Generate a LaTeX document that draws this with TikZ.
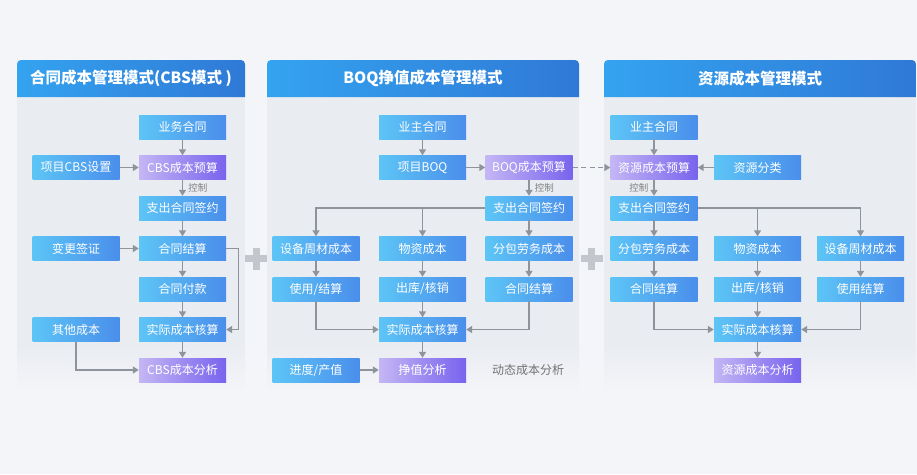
\documentclass[tikz,border=0pt]{standalone}
\usepackage{fontspec}
\setmainfont{Noto Sans CJK SC}
\usetikzlibrary{arrows.meta}

\definecolor{pagebg}{HTML}{F4F5F9}
\definecolor{panelbg}{HTML}{E9ECF1}
\definecolor{headleft}{HTML}{34A3F0}
\definecolor{headright}{HTML}{2F79D6}
\definecolor{boxleft}{HTML}{5DC5F6}
\definecolor{boxright}{HTML}{4A8EEB}
\definecolor{purpleleft}{HTML}{C4B6F5}
\definecolor{purpleright}{HTML}{7863EE}
\definecolor{linkgray}{HTML}{8E939C}
\definecolor{plusgray}{HTML}{C3C6CD}

\tikzset{
  panelhead/.style={left color=headleft, right color=headright},
  headtitle/.style={text=white, font=\bfseries\fontsize{15.5}{17}\selectfont}
}
\newcommand{\costpanel}[4]{%
  \begin{scope}
    \fill[panelbg] (#1,97) rectangle (#2,345);
    \shade[top color=panelbg, bottom color=pagebg] (#1,344.5) rectangle (#2,392);
    \shade[panelhead]
      (#1,97) [rounded corners=4pt] -- (#1,60) -- (#2,60) [sharp corners] -- (#2,97) -- cycle;
    \node[headtitle] (#4) at ({(#1+#2)/2},78.5) {#3};
  \end{scope}%
}
\newcommand{\plussign}[2]{%
  \begin{scope}[shift={(#1,#2)}]
    \fill[plusgray] (-11,-3.5) rectangle (11,3.5);
    \fill[plusgray] (-3.5,-11) rectangle (3.5,11);
  \end{scope}%
}

\begin{document}
\begin{tikzpicture}[x=1pt,y=-1pt]

  % --- styles ---
  \tikzset{
    costbox/.style={minimum width=87pt, minimum height=24pt, inner sep=0pt,
      left color=boxleft, right color=boxright, text=white,
      font=\fontsize{12}{13}\selectfont},
    budgetbox/.style={costbox, left color=purpleleft, right color=purpleright},
    link/.style={draw=linkgray, line width=1.5pt,
      -{Triangle[length=6pt,width=7pt]}},
    ctrl/.style={text=gray, font=\fontsize{9.5}{10}\selectfont, inner sep=2pt},
    note/.style={text=gray!90!black, font=\fontsize{12}{13}\selectfont}
  }

  % --- background & panels ---
  \fill[pagebg] (0,0) rectangle (917,474);
  \useasboundingbox (0,0) rectangle (917,474);

  \costpanel{17}{245}{合同成本管理模式(CBS模式 )}{cbstitle}
  \costpanel{267}{579}{BOQ挣值成本管理模式}{boqtitle}
  \costpanel{604}{916}{资源成本管理模式}{restitle}

  \plussign{256}{258.5}
  \plussign{591.5}{258.5}

  % =========================
  %  CBS MODE
  % =========================

  \node[costbox] (ywht1) at (182.5,127) {业务合同};
  \node[costbox] (cbsset) at (76,167.5) {项目CBS设置};
  \node[budgetbox] (cbsbudget) at (182.5,167.5) {CBS成本预算};
  \node[costbox] (zcqy1) at (182.5,208) {支出合同签约};
  \node[costbox] (bgqz) at (76,248.5) {变更签证};
  \node[costbox] (htjs1) at (182.5,248.5) {合同结算};
  \node[costbox] (htfk) at (182.5,289) {合同付款};
  \node[costbox] (qtcb) at (76,329.5) {其他成本};
  \node[costbox] (sjhs1) at (182.5,329.5) {实际成本核算};
  \node[budgetbox] (cbsfx) at (182.5,370) {CBS成本分析};

  \draw[link] (ywht1) -- (cbsbudget);
  \draw[link] (cbsset) -- (cbsbudget);
  \draw[link] (cbsbudget) -- node[ctrl, right=3pt] {控制} (zcqy1);
  \draw[link] (zcqy1) -- (htjs1);
  \draw[link] (bgqz) -- (htjs1);
  \draw[link] (htjs1) -- (htfk);
  \draw[link] (htfk) -- (sjhs1);
  \draw[link] (htjs1.east) -- ++(12.5,0) |- (sjhs1.east);
  \draw[link] (sjhs1) -- (cbsfx);
  \draw[link] (qtcb.south) |- (cbsfx.west);

  % =========================
  %  BOQ EARNED VALUE MODE
  % =========================

  \node[costbox] (yzht2) at (422.5,127) {业主合同};
  \node[costbox] (boq) at (422.5,167.5) {项目BOQ};
  \node[budgetbox] (boqbudget) at (529,167.5) {BOQ成本预算};
  \node[costbox] (zcqy2) at (529,208) {支出合同签约};
  \node[costbox] (sbzc2) at (316,248.5) {设备周材成本};
  \node[costbox] (wzcb2) at (422.5,248.5) {物资成本};
  \node[costbox] (fblw2) at (529,248.5) {分包劳务成本};
  \node[costbox] (syjs2) at (316,289) {使用/结算};
  \node[costbox] (ckhx2) at (422.5,289) {出库/核销};
  \node[costbox] (htjs2) at (529,289) {合同结算};
  \node[costbox] (sjhs2) at (422.5,329.5) {实际成本核算};
  \node[costbox] (jdcz) at (316,370) {进度/产值};
  \node[budgetbox] (jzfx) at (422.5,370) {挣值分析};
  \node[note] (dtfx) at (528,370) {动态成本分析};

  \draw[link] (yzht2) -- (boq);
  \draw[link] (boq) -- (boqbudget);
  \draw[link] (boqbudget) -- node[ctrl, right=3pt] {控制} (zcqy2);
  \draw[link] (zcqy2.west) -| (sbzc2.north);
  \draw[link] (zcqy2.west -| wzcb2) -- (wzcb2);
  \draw[link] (zcqy2) -- (fblw2);
  \draw[link] (sbzc2) -- (syjs2);
  \draw[link] (wzcb2) -- (ckhx2);
  \draw[link] (fblw2) -- (htjs2);
  \draw[link] (syjs2.south) |- (sjhs2.west);
  \draw[link] (ckhx2) -- (sjhs2);
  \draw[link] (htjs2.south) |- (sjhs2.east);
  \draw[link] (sjhs2) -- (jzfx);
  \draw[link] (jdcz) -- (jzfx);

  % =========================
  %  RESOURCE MODE
  % =========================

  \node[costbox] (yzht3) at (654,127) {业主合同};
  \node[budgetbox] (zyys3) at (654,167.5) {资源成本预算};
  \node[costbox] (zyfl) at (757.5,167.5) {资源分类};
  \node[costbox] (zcqy3) at (654,208) {支出合同签约};
  \node[costbox] (fblw3) at (654,248.5) {分包劳务成本};
  \node[costbox] (wzcb3) at (757.5,248.5) {物资成本};
  \node[costbox] (sbzc3) at (860.5,248.5) {设备周材成本};
  \node[costbox] (htjs3) at (654,289) {合同结算};
  \node[costbox] (ckhx3) at (757.5,289) {出库/核销};
  \node[costbox] (syjs3) at (860.5,289) {使用结算};
  \node[costbox] (sjhs3) at (757.5,329.5) {实际成本核算};
  \node[budgetbox] (zyfx) at (757.5,370) {资源成本分析};

  \draw[link, dash pattern=on 5pt off 3.5pt] (boqbudget) -- (zyys3);
  \draw[link] (yzht3) -- (zyys3);
  \draw[link] (zyfl) -- (zyys3);
  \draw[link] (zyys3) -- node[ctrl, left=3pt] {控制} (zcqy3);
  \draw[link] (zcqy3.east) -| (sbzc3.north);
  \draw[link] (zcqy3.east -| wzcb3) -- (wzcb3);
  \draw[link] (zcqy3) -- (fblw3);
  \draw[link] (fblw3) -- (htjs3);
  \draw[link] (wzcb3) -- (ckhx3);
  \draw[link] (sbzc3) -- (syjs3);
  \draw[link] (htjs3.south) |- (sjhs3.west);
  \draw[link] (ckhx3) -- (sjhs3);
  \draw[link] (syjs3.south) |- (sjhs3.east);
  \draw[link] (sjhs3) -- (zyfx);

\end{tikzpicture}
\end{document}
